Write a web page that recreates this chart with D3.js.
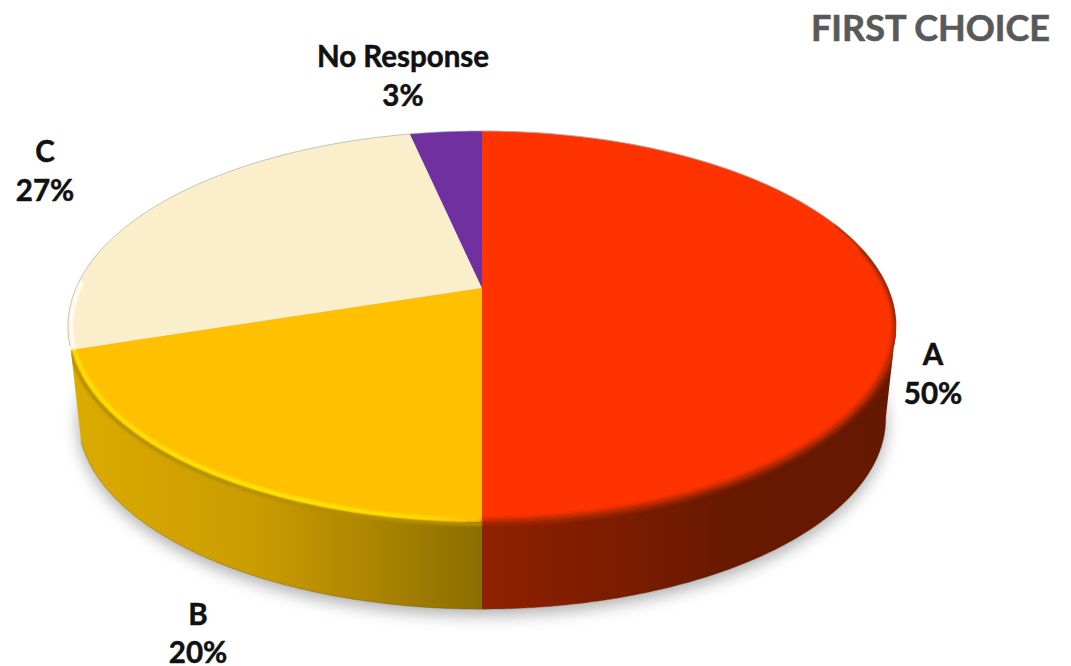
<!DOCTYPE html>
<html><head><meta charset="utf-8">
<script src="https://cdn.jsdelivr.net/npm/d3@7"></script>
<style>html,body{margin:0;padding:0;background:#fff}svg{display:block}text{font-family:Lato,"Open Sans",sans-serif;font-weight:700}</style>
</head><body><svg id="c" width="1071" height="666"></svg>
<script>
const categories = ["A", "B", "C", "No Response"];
const shares = [50, 20, 26.6, 3.4];
const faceColors = ["#ff3300", "#ffc000", "#fbeecb", "#7030a0"];
const titleText = "FIRST CHOICE";
// layout, separate from data
const W = 1071, H = 666;
const labelAnchors = [[933, 365], [198, 624.5], [45, 162], [403, 67]];
const LINE = 38.5, cx = 482, cy = 288, dx = 406, ka = 131.2, kc = -0.197;
const svg = d3.select("#c");
const pie = d3.pie().sort(null).value(d => d).startAngle(0).endAngle(2 * Math.PI);
const arcs = pie(shares);
const color = d3.scaleOrdinal().domain(categories).range(faceColors);
// perspective projection of the disc
const topPt = (t, r = 1) => {
  const u = r * Math.sin(t), v = -r * Math.cos(t), w = 1 + kc * v;
  return [cx + dx * u / w, (ka * v + cy) / w];
};
const botPt = t => {
  const p = topPt(t);
  return [cx + (p[0] - cx) * 0.975, 326 + (p[1] - 326) * 0.975 + 92];
};
const samples = (a, b) => { const n = 160; return d3.range(n + 1).map(i => a + (b - a) * i / n); };
const line = d3.line();
const defs = svg.append("defs");
const blur = (id, s) => defs.append("filter").attr("id", id)
  .attr("filterUnits", "userSpaceOnUse").attr("x", 0).attr("y", 0).attr("width", W).attr("height", H)
  .append("feGaussianBlur").attr("stdDeviation", s);
blur("b8", 8); blur("b2", 2); blur("b1", 1.2); blur("b05", 0.5);
const grad = (id, x1, x2, stops) => {
  const g = defs.append("linearGradient").attr("id", id).attr("gradientUnits", "userSpaceOnUse")
    .attr("x1", x1).attr("x2", x2).attr("y1", 0).attr("y2", 0);
  stops.forEach(s => g.append("stop").attr("offset", s[0]).attr("stop-color", s[1]));
};
grad("sideA", 482, 890, [[0, "#8f2000"], [0.35, "#7a1c00"], [0.6, "#681900"], [1, "#651800"]]);
grad("sideB", 72, 482, [[0, "#dcab00"], [0.45, "#c99c00"], [0.7, "#b08800"], [1, "#8c6d00"]]);
grad("shine", 90, 478, [[0, "#ffe000"], [0.55, "#ffe800"], [0.85, "#ffdc00"], [1, "#ffc000"]]);
// ground shadow
const full = samples(0, 2 * Math.PI);
svg.append("path").attr("d", line(full.map(t => { const p = botPt(t); return [p[0], p[1] + 6]; })) + "Z")
  .attr("fill", "#a0a0a0").attr("opacity", 0.85).attr("filter", "url(#b8)");
// side walls: A from its widest point, B up to its edge
const widest = Math.acos(0.1945);
const tA = Math.PI - widest;
const sideRanges = [[tA, arcs[0].endAngle, "sideA"], [arcs[1].startAngle, arcs[1].endAngle, "sideB"]];
sideRanges.forEach(([a, b, g]) => {
  const ts = samples(a, b);
  svg.append("path").attr("d", line(ts.map(t => topPt(t)).concat(ts.slice().reverse().map(botPt))) + "Z")
    .attr("fill", `url(#${g})`);
});
// bottom silhouette line
svg.append("path").attr("d", line(samples(tA, arcs[1].endAngle).map(botPt))).attr("fill", "none")
  .attr("stroke", "#6b5a30").attr("stroke-width", 0.8).attr("opacity", 0.5);
// top faces
const wedge = d => line([topPt(0, 0)].concat(samples(d.startAngle, d.endAngle).map(t => topPt(t)))) + "Z";
svg.selectAll("path.face").data(arcs).join("path").attr("class", "face")
  .attr("d", wedge).attr("fill", (d, i) => color(categories[i]));
// back rim hairline
svg.append("path").attr("d", line(samples(arcs[2].startAngle + 0.02, 2 * Math.PI).map(t => topPt(t))))
  .attr("fill", "none").attr("stroke", "#a0a0a0").attr("stroke-width", 1).attr("opacity", .6);
svg.append("path").attr("d", line(samples(0, tA).map(t => topPt(t)))).attr("fill", "none")
  .attr("stroke", "#b8a8a0").attr("stroke-width", 1);
// clip the bevel to disc + wall
const clip = defs.append("clipPath").attr("id", "front");
clip.append("path").attr("d", line(samples(tA, arcs[1].endAngle).map(t => topPt(t)).concat(samples(tA, arcs[1].endAngle).reverse().map(botPt))) + "Z");
clip.append("path").attr("d", line(full.map(t => topPt(t))) + "Z");
const bevel = svg.append("g").attr("clip-path", "url(#front)");
// A bevel: dark soft edge
bevel.append("path").attr("d", line(samples(1.35, arcs[0].endAngle).map(t => topPt(t)))).attr("fill", "none")
  .attr("stroke", "#a82600").attr("stroke-width", 6).attr("filter", "url(#b2)");
bevel.append("path").attr("d", line(samples(1.2, 1.75).map(t => topPt(t)))).attr("fill", "none")
  .attr("stroke", "#7a2a10").attr("stroke-width", 2).attr("filter", "url(#b1)");
// B bevel: dark lip on wall and yellow highlight
bevel.append("path").attr("d", line(samples(arcs[1].startAngle, arcs[1].endAngle).map(t => topPt(t)))).attr("fill", "none")
  .attr("stroke", "#b58d00").attr("stroke-width", 4).attr("filter", "url(#b1)").attr("transform", "translate(0,2)");
bevel.append("path").attr("d", line(samples(arcs[1].startAngle + 0.03, arcs[1].endAngle).map(t => topPt(t, 0.992)))).attr("fill", "none")
  .attr("stroke", "url(#shine)").attr("stroke-width", 4).attr("filter", "url(#b1)");
// C pale highlight
bevel.append("path").attr("d", line(samples(arcs[2].startAngle, arcs[2].startAngle + 0.35).map(t => topPt(t, 0.992)))).attr("fill", "none")
  .attr("stroke", "#ffffff").attr("stroke-width", 3).attr("filter", "url(#b1)");
const pct = d3.format(".0f");
// labels
const labels = svg.append("g").attr("fill", "#111").attr("stroke", "#111").attr("stroke-width", 0.5)
  .attr("font-size", 29.5).attr("text-anchor", "middle");
arcs.forEach((d, i) => {
  const [x, y] = labelAnchors[i];
  labels.append("text").attr("x", x).attr("y", y).text(categories[i]);
  labels.append("text").attr("x", x).attr("y", y + LINE).attr("textLength", null).text(pct(shares[i]) + "%");
});
svg.append("text").attr("x", 1050).attr("y", 41).attr("text-anchor", "end").attr("font-size", 36)
  .attr("fill", "#595959").attr("stroke", "#595959").attr("stroke-width", 0.6).text(titleText);
</script></body></html>
